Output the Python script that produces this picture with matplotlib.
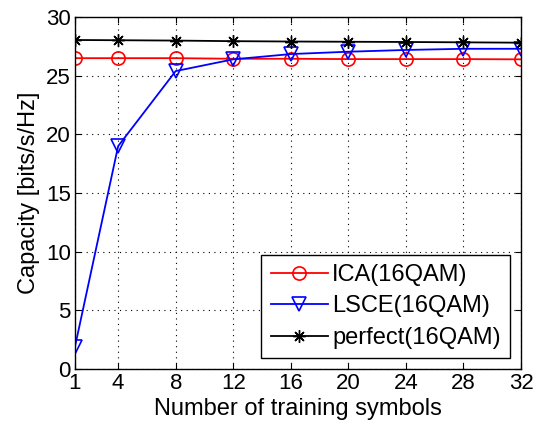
import matplotlib
matplotlib.use('Agg')
import matplotlib.pyplot as plt

plt.rcParams['font.family'] = ['Liberation Sans', 'DejaVu Sans']

symbols = [1, 4, 8, 12, 16, 20, 24, 28, 32]
ica = [26.5, 26.5, 26.5, 26.45, 26.45, 26.42, 26.42, 26.42, 26.4]
lsce = [1.9, 19.0, 25.4, 26.4, 26.85, 27.05, 27.2, 27.3, 27.3]
perfect = [28.05, 28.03, 28.0, 27.95, 27.92, 27.9, 27.88, 27.85, 27.82]

fig = plt.figure(figsize=(5.34, 4.28), dpi=100)
ax = fig.add_axes([0.1404, 0.1379, 0.8353, 0.8221])

ax.plot(symbols, ica, '-', color='red', marker='o', mfc='none', ms=9.5, mew=1.2, lw=1.3, label='ICA(16QAM)')
ax.plot(symbols, lsce, '-', color='blue', marker='v', mfc='none', ms=10.5, mew=1.2, lw=1.3, label='LSCE(16QAM)')
ax.plot(symbols, perfect, '-', color='black', marker=(8, 2, 0), ms=9, mew=1.0, lw=1.3, label='perfect(16QAM)')

ax.set_xlim(1, 32)
ax.set_ylim(0, 30)
ax.set_xticks(symbols)
ax.set_yticks(range(0, 31, 5))
ax.grid(True, linestyle=(0, (1, 4)), color='black', linewidth=0.8)
ax.tick_params(direction='in', top=True, right=True, labelsize=16, length=4, pad=3)
for s in ax.spines.values():
    s.set_linewidth(1.0)

ax.set_xlabel('Number of training symbols', fontsize=17, labelpad=3)
ax.set_ylabel('Capacity [bits/s/Hz]', fontsize=17, labelpad=4)

leg = ax.legend(loc='lower right', fontsize=17, fancybox=False, framealpha=1,
                edgecolor='black', handlelength=2.4, handletextpad=0.2,
                labelspacing=0.4, borderpad=0.4, borderaxespad=0.45)
leg.get_frame().set_linewidth(1.0)

fig.savefig('out.png', dpi=100)
